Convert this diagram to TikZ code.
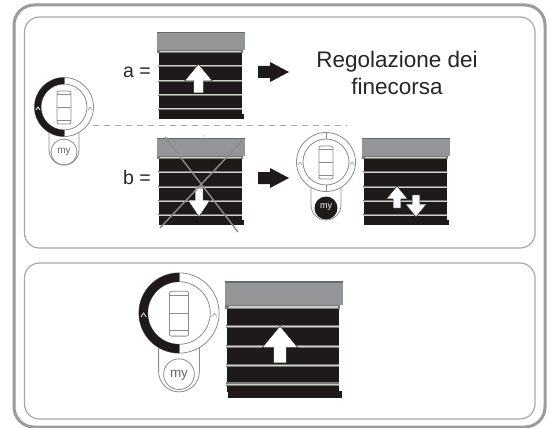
\documentclass[tikz,border=0pt]{standalone}
\usepackage{fontspec}
\setmainfont{Liberation Sans}
\definecolor{fr}{HTML}{9A9C9E}
\definecolor{pn}{HTML}{A6A8AA}
\definecolor{hd}{HTML}{939597}
\definecolor{bk}{HTML}{1E1A1A}
\definecolor{sl}{HTML}{D0D0CA}
\definecolor{sd}{HTML}{7A7A76}
\definecolor{rl}{HTML}{8C8C8C}
\tikzset{
  x=1pt,y=-1pt,
  outerframe/.style={draw=fr,line width=3pt,rounded corners=20pt},
  panel/.style={draw=pn,line width=1.2pt,rounded corners=15pt},
  lbl/.style={inner sep=0pt,font=\fontsize{19.5}{22}\selectfont,text=black!85},
  title/.style={inner sep=0pt,align=center,font=\fontsize{22.5}{27}\selectfont,text=black!85},
  rline/.style={draw=rl,line width=0.8pt},
  wht/.style={fill=white,draw=bk,line width=0.5pt},
  pics/blind/.style={code={
    \fill[bk] (1.5,21) rectangle (85,83);
    \fill[bk] (2,82) rectangle (87,87);
    \fill[hd] (0,0) rectangle (88,18);
    \fill[hd!70!black] (0,0) rectangle (88,1.5);
    \fill[sd] (0,18) rectangle (86,21);
    \fill[sl] (3,19) rectangle (84,20);
    \foreach \yy in {34,49,63,77} {
      \fill[sd] (1,\yy-1.3) rectangle (85,\yy+1.3);
      \fill[sl] (1,\yy-0.5) rectangle (85,\yy+0.5);
    }
  }},
  pics/remote/.style={code={
    \draw[rline,fill=white] (-15,20) -- (-15,43) arc[start angle=180,end angle=0,radius=15] -- (15,20);
    \draw[rline,fill=white] (0,0) circle[radius=29.5];
    \draw[rline] (0,0) circle[radius=23];
    \draw[rline,rounded corners=2pt] (-7,-16) rectangle (7,17);
    \draw[rline] (-7,-13) -- (7,-13) (-7,0) -- (7,0) (-7,13) -- (7,13);
    \draw[rline] (0,-29.5) -- (0,-23) (0,23) -- (0,29.5);
    \draw[rline,line width=0.5pt] (-28,3) -- (-26,0) -- (-24,3);
    \draw[rline,line width=0.5pt] (24,3) -- (26,0) -- (28,3);
  }},
  pics/ringleft/.style={code={
    \fill[bk] (0,-29.5) arc[start angle=-90,end angle=-270,radius=29.5] -- (0,23) arc[start angle=90,end angle=270,radius=23] -- cycle;
    \draw[white,line width=0.7pt] (-28,3) -- (-26,0) -- (-24,3);
  }},
}
\newcommand{\uparr}[3]{% tip x, tip y, transform
  \begin{scope}[shift={(#1,#2)},#3]
    \filldraw[wht] (0,0) -- (14,17) -- (5,17) -- (5,29) -- (-5,29) -- (-5,17) -- (-14,17) -- cycle;
  \end{scope}}
\newcommand{\dnarr}[3]{%
  \begin{scope}[shift={(#1,#2)},#3]
    \filldraw[wht] (0,0) -- (14,-17) -- (5,-17) -- (5,-29) -- (-5,-29) -- (-5,-17) -- (-14,-17) -- cycle;
  \end{scope}}
\newcommand{\rarr}[2]{%
  \fill[bk] (#1,#2-6) -- (#1+12,#2-6) -- (#1+12,#2-10) -- (#1+31,#2) -- (#1+12,#2+10) -- (#1+12,#2+6) -- (#1,#2+6) -- cycle;}
\begin{document}
\begin{tikzpicture}
\useasboundingbox (0,0) rectangle (547,428);
\fill[white] (0,0) rectangle (547,428);
\draw[outerframe] (14,5) rectangle (545,427);
\draw[panel] (24.5,17) rectangle (535,248);
\draw[panel] (24.5,263) rectangle (535,419);

% Row a
\pic at (157,32) {blind};
\uparr{198.5}{64}{scale=1}
\node[lbl,anchor=east] (la) at (151,72) {a =};
\rarr{258}{72}
\node[title] (ttl) at (397,73) {Regolazione dei\\finecorsa};

% Remote left
\pic at (64,107) {remote};
\pic at (64,107) {ringleft};
\draw[rline] (64,152) circle[radius=13];
\node[inner sep=0pt,font=\fontsize{10}{12}\selectfont,text=black!60] (my1) at (64,151.5) {my};

% Dashed separator
\coordinate (dl) at (93,125);
\coordinate (dr) at (347,125);
\draw[draw=pn,line width=0.8pt,dash pattern=on 6pt off 5pt] (dl) -- (dr);
\fill[rl] (204,136) circle[radius=0.6];

% Row b
\pic at (157,138) {blind};
\dnarr{199}{217}{xscale=0.8}
\draw[draw=rl,line width=1.4pt] (160,228) -- (243,140) (165,137) -- (238,232);
\node[lbl,anchor=east] (lb) at (151,178) {b =};
\rarr{258}{178}

% Remote centre
\pic at (326,162) {remote};
\fill[bk] (326,208) circle[radius=11.5];
\node[inner sep=0pt,font=\fontsize{9}{11}\selectfont,text=white] (my2) at (326,207.5) {my};

% Blind right
\pic at (362,138) {blind};
\uparr{397}{186}{scale=0.76}
\dnarr{416}{217}{scale=0.76}

% Lower panel
\begin{scope}[shift={(179,313)},scale=1.36]
  \pic[transform shape] {remote};
  \pic[transform shape] {ringleft};
  \draw[rline] (0,45) circle[radius=11.3];
\end{scope}
\node[inner sep=0pt,font=\fontsize{13.5}{15}\selectfont,text=black!60] (my3) at (179,375) {my};
\begin{scope}[shift={(225,281)},scale=1.34]
  \pic[transform shape] {blind};
\end{scope}
\uparr{280}{326}{scale=1.27}
\end{tikzpicture}
\end{document}
